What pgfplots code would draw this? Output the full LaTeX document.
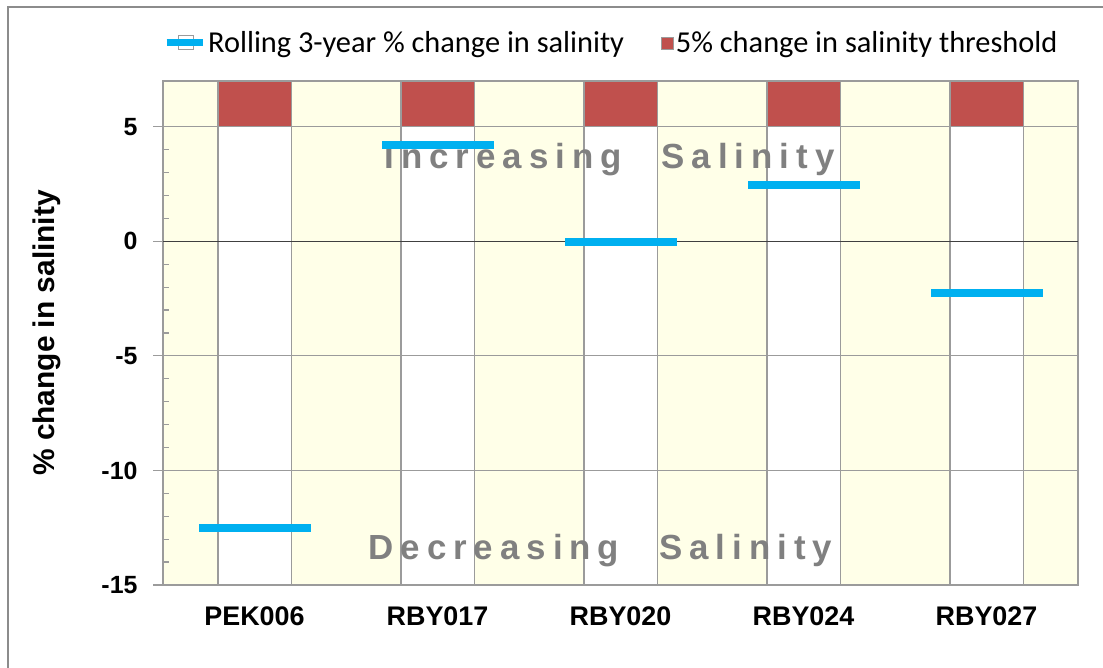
\documentclass[border=0pt]{standalone}
\usepackage{pgfplots}
\pgfplotsset{compat=1.18}
\usepackage{fontspec}
\setmainfont{Liberation Sans}
\newfontfamily\legfont{Carlito}
\definecolor{cream}{RGB}{255,255,232}
\definecolor{barred}{RGB}{192,80,77}
\definecolor{lineblue}{RGB}{0,176,240}
\definecolor{gridgray}{RGB}{155,155,155}
\definecolor{framegray}{RGB}{140,140,140}
\definecolor{txtgray}{RGB}{128,128,128}
\begin{document}
\begin{tikzpicture}[x=1bp,y=1bp]
\useasboundingbox (0,0) rectangle (1103,668);
\fill[white] (0,0) rectangle (1103,668);
\draw[line width=2bp, framegray] (7.5,-5) -- (7.5,660.5) -- (1110,660.5);
\begin{axis}[
  at={(163bp,83bp)}, anchor=south west,
  scale only axis, width=915bp, height=504bp,
  xmin=-0.5, xmax=4.5, ymin=-15, ymax=7,
  axis on top,
  axis background/.style={fill=cream},
  axis line style={gridgray, line width=1.2bp},
  xtick={0,1,2,3,4},
  xticklabels={PEK006,RBY017,RBY020,RBY024,RBY027},
  major x tick style={draw=none},
  ytick={-15,-10,-5,0,5},
  minor y tick num=4,
  ytick pos=left, xtick pos=bottom,
  tick align=outside,
  major tick length=10bp, minor tick length=6bp,
  major y tick style={gridgray, line width=1.2bp},
  minor y tick style={gridgray, line width=1.2bp, xshift=6bp},
  ymajorgrids, major grid style={gridgray, line width=1.2bp},
  extra y ticks={0}, extra y tick labels={},
  extra y tick style={major grid style={black!75, line width=1.5bp}},
  /pgf/number format/assume math mode=true,
  yticklabel style={font=\bfseries\fontsize{25}{25}\selectfont, xshift=-12bp},
  xticklabel style={font=\bfseries\fontsize{27}{27}\selectfont, yshift=-8bp},
  every axis y label/.style={at={(axis description cs:-0.1268,0.5)}, rotate=90, anchor=center},
  ylabel={\bfseries\fontsize{30}{30}\selectfont \% change in salinity},
  legend columns=2,
  legend cell align=left,
  legend style={at={(0,1)}, anchor=west, xshift=0bp, yshift=38bp, draw=none, fill=none,
    inner sep=0pt, font=\legfont\fontsize{30.5}{30.5}\selectfont,
    /tikz/every even column/.append style={column sep=35bp}},
]
\addlegendimage{legend image code/.code={\draw[gridgray, fill=white, line width=1bp] (12bp,-7bp) rectangle (27bp,7bp); \draw[lineblue, line width=7bp] (0bp,0bp) -- (36bp,0bp);}}
\addlegendentry{Rolling 3-year \% change in salinity}
\addlegendimage{legend image code/.code={\draw[gridgray, fill=barred, line width=0.8bp] (0bp,-6bp) rectangle (12bp,6bp);}}
\addlegendentry{5\% change in salinity threshold}

\addplot[ybar, bar width=0.4, bar shift=0pt, fill=barred, draw=gridgray, line width=1.2bp, forget plot]
  coordinates {(0,7) (1,7) (2,7) (3,7) (4,7)};
\addplot[ybar, bar width=0.4, bar shift=0pt, fill=white, draw=gridgray, line width=1.2bp, forget plot]
  coordinates {(0,5) (1,5) (2,5) (3,5) (4,5)};
\addplot[ybar, bar width=0.4, bar shift=0pt, fill=white, draw=gridgray, line width=1.2bp, forget plot]
  coordinates {(0,-15) (1,-15) (2,-15) (3,-15) (4,-15)};

\addplot[only marks, mark=-, mark size=56bp, mark options={lineblue, line width=8bp}, forget plot]
  coordinates {(0,-12.5) (1,4.2) (2,-0.05) (3,2.45) (4,-2.25)};

\node[txtgray, font=\bfseries\fontsize{35}{35}\selectfont\addfontfeature{LetterSpace=20}] at (axis cs:1.94,3.55) {Increasing\hspace{40bp}Salinity};
\node[txtgray, font=\bfseries\fontsize{35}{35}\selectfont\addfontfeature{LetterSpace=20}] at (axis cs:1.89,-13.5) {Decreasing\hspace{40bp}Salinity};
\end{axis}
\end{tikzpicture}
\end{document}
